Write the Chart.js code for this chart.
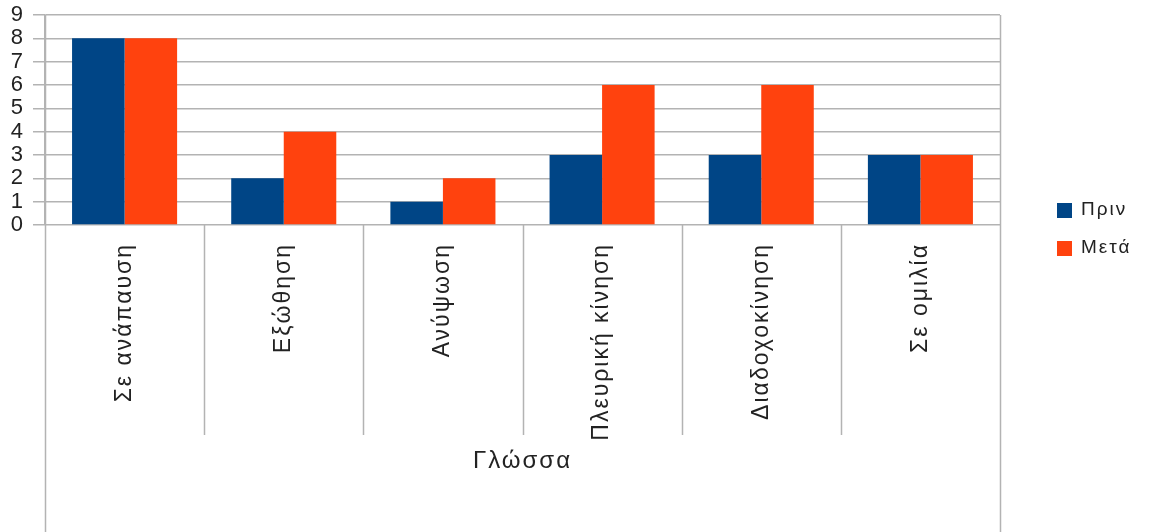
<!DOCTYPE html>
<html lang="el">
<head>
<meta charset="utf-8">
<script src="https://cdn.jsdelivr.net/npm/chart.js@4.4.1/dist/chart.umd.min.js"></script>
<style>
  html, body { margin: 0; padding: 0; background: #fff; }
</style>
</head>
<body>
<canvas id="tongueChart" width="1150" height="532"></canvas>
<script>
// κινήσεις γλώσσας, πριν και μετά
const categories = ['Σε ανάπαυση', 'Εξώθηση', 'Ανύψωση', 'Πλευρική κίνηση', 'Διαδοχοκίνηση', 'Σε ομιλία'];
const beforeValues = [8, 2, 1, 3, 3, 3];
const afterValues = [8, 4, 2, 6, 6, 3];
const seriesNames = ['Πριν', 'Μετά'];
const yMax = 9;

const gridColor = '#b3b3b3';
const textColor = '#222';
const fontFamily = '"Liberation Sans", Arial, sans-serif';

// αραιό κείμενο όπως στο LibreOffice
const spacedText = {
    id: 'spacedText',
    beforeLayout(chart) { chart.ctx.letterSpacing = '2px'; },
    beforeDraw(chart) { chart.ctx.letterSpacing = '2px'; }
};

// διαχωριστικές γραμμές κάτω από τον άξονα και πλαίσιο
const frameLines = {
    id: 'frameLines',
    beforeDatasetsDraw(chart) {
        const { ctx, chartArea, scales: { x } } = chart;
        ctx.save();
        ctx.strokeStyle = gridColor;
        ctx.lineWidth = 1.5;
        ctx.beginPath();
        for (let i = 0; i <= categories.length; i++) {
            const px = Math.round(x.getPixelForValue(i - 0.5)) + 0.5;
            const edge = i === 0 || i === categories.length;
            ctx.moveTo(px, edge ? chartArea.top : chartArea.bottom);
            ctx.lineTo(px, edge ? chart.height : chartArea.bottom + 210);
        }
        ctx.stroke();
        ctx.restore();
    }
};

// υπόμνημα δεξιά
const sideLegend = {
    id: 'sideLegend',
    afterDraw(chart) {
        const { ctx } = chart;
        ctx.save();
        ctx.font = '19px ' + fontFamily;
        ctx.textBaseline = 'middle';
        chart.data.datasets.forEach((ds, i) => {
            const y = 210 + i * 38;
            ctx.fillStyle = ds.backgroundColor;
            ctx.fillRect(1057, y - 7, 15, 15);
            ctx.fillStyle = textColor;
            ctx.fillText(ds.label, 1081, y);
        });
        ctx.restore();
    }
};

const ctx = document.getElementById('tongueChart').getContext('2d');
const tongueChart = new Chart(ctx, {
    type: 'bar',
    data: {
        labels: categories,
        datasets: [{
            label: seriesNames[0],
            data: beforeValues,
            backgroundColor: '#004586'
        }, {
            label: seriesNames[1],
            data: afterValues,
            backgroundColor: '#ff420e'
        }]
    },
    options: {
        responsive: false,
        animation: false,
        layout: {
            padding: { left: 11, top: 15, right: 150, bottom: 50 }
        },
        datasets: {
            bar: {
                categoryPercentage: 0.66,
                barPercentage: 1.0
            }
        },
        plugins: {
            legend: { display: false },
            tooltip: { enabled: false }
        },
        scales: {
            x: {
                grid: { display: false, drawTicks: false },
                border: { display: false },
                ticks: {
                    autoSkip: false,
                    minRotation: 90,
                    maxRotation: 90,
                    padding: 18,
                    color: textColor,
                    font: { family: fontFamily, size: 23 }
                },
                title: {
                    display: true,
                    text: 'Γλώσσα',
                    color: textColor,
                    padding: { top: 4, bottom: 6 },
                    font: { family: fontFamily, size: 24 }
                },
                afterFit(scale) {
                    scale.height = 257;
                }
            },
            y: {
                min: 0,
                max: yMax,
                grid: { color: gridColor, lineWidth: 1.5, tickLength: 12 },
                border: { color: gridColor, width: 1.5 },
                ticks: {
                    stepSize: 1,
                    autoSkip: false,
                    padding: 8,
                    color: textColor,
                    font: { family: fontFamily, size: 22 }
                },
                afterFit(scale) {
                    scale.width = 34;
                    scale.paddingTop = 0;
                    scale.paddingBottom = 0;
                }
            }
        }
    },
    plugins: [spacedText, frameLines, sideLegend]
});
</script>
</body>
</html>
